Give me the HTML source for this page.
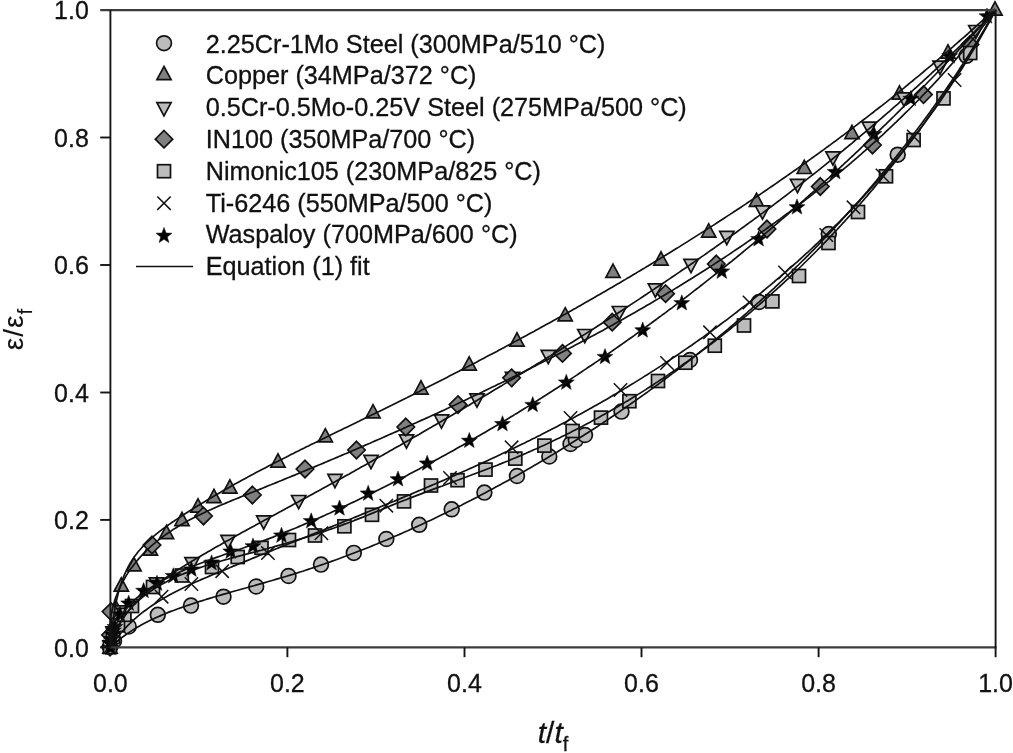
<!DOCTYPE html>
<html><head><meta charset="utf-8"><title>Creep curves</title>
<style>
html,body{margin:0;padding:0;background:#fff}
body{width:1013px;height:753px;overflow:hidden}
svg{display:block}
text{font-family:"Liberation Sans",Arial,sans-serif;fill:#111;stroke:#111;stroke-width:0.3px}
.tk{font-size:25px}
.lg{font-size:25.22px}
.ax{font-size:30px}
</style></head><body>
<svg width="1013" height="753" viewBox="0 0 1013 753">
<rect width="1013" height="753" fill="#fff"/>
<g fill="#bcbcbc" stroke="#111" stroke-width="1.7" stroke-linejoin="miter">
<circle cx="110.0" cy="647.0" r="7.4"/><circle cx="114.0" cy="641.0" r="7.4"/><circle cx="128.7" cy="626.5" r="7.4"/><circle cx="157.8" cy="614.8" r="7.4"/><circle cx="191.0" cy="605.6" r="7.4"/><circle cx="223.5" cy="596.7" r="7.4"/><circle cx="256.2" cy="586.5" r="7.4"/><circle cx="288.5" cy="576.0" r="7.4"/><circle cx="321.0" cy="564.6" r="7.4"/><circle cx="353.8" cy="552.9" r="7.4"/><circle cx="386.3" cy="539.0" r="7.4"/><circle cx="419.2" cy="524.8" r="7.4"/><circle cx="451.7" cy="509.3" r="7.4"/><circle cx="484.4" cy="492.6" r="7.4"/><circle cx="517.0" cy="476.0" r="7.4"/><circle cx="549.3" cy="456.5" r="7.4"/><circle cx="570.5" cy="444.0" r="7.4"/><circle cx="575.8" cy="440.0" r="7.4"/><circle cx="585.0" cy="435.0" r="7.4"/><circle cx="621.5" cy="411.6" r="7.4"/><circle cx="690.0" cy="360.0" r="7.4"/><circle cx="759.0" cy="302.0" r="7.4"/><circle cx="828.8" cy="234.0" r="7.4"/><circle cx="897.7" cy="154.7" r="7.4"/><circle cx="966.5" cy="55.8" r="7.4"/>
</g>
<g fill="#808080" stroke="#111" stroke-width="1.7" stroke-linejoin="miter">
<path d="M110.0 639.9L117.1 653.1H102.9Z"/><path d="M112.0 624.9L119.1 638.1H104.9Z"/><path d="M116.0 600.9L123.1 614.1H108.9Z"/><path d="M121.3 577.9L128.4 591.1H114.2Z"/><path d="M134.0 557.7L141.1 570.9H126.9Z"/><path d="M150.4 541.9L157.5 555.1H143.3Z"/><path d="M166.5 525.4L173.6 538.6H159.4Z"/><path d="M182.0 512.4L189.1 525.6H174.9Z"/><path d="M198.0 498.9L205.1 512.1H190.9Z"/><path d="M214.0 489.4L221.1 502.6H206.9Z"/><path d="M229.9 479.9L237.0 493.1H222.8Z"/><path d="M278.0 453.9L285.1 467.1H270.9Z"/><path d="M325.3 428.7L332.4 441.9H318.2Z"/><path d="M373.0 404.7L380.1 417.9H365.9Z"/><path d="M421.0 380.9L428.1 394.1H413.9Z"/><path d="M469.2 356.9L476.3 370.1H462.1Z"/><path d="M517.0 332.9L524.1 346.1H509.9Z"/><path d="M565.2 307.7L572.3 320.9H558.1Z"/><path d="M613.0 264.1L620.1 277.3H605.9Z"/><path d="M661.0 251.9L668.1 265.1H653.9Z"/><path d="M708.7 223.9L715.8 237.1H701.6Z"/><path d="M756.5 193.2L763.6 206.4H749.4Z"/><path d="M804.3 160.3L811.4 173.5H797.2Z"/><path d="M852.0 125.4L859.1 138.6H844.9Z"/><path d="M899.5 85.9L906.6 99.1H892.4Z"/><path d="M948.0 44.9L955.1 58.1H940.9Z"/><path d="M995.0 1.9L1002.1 15.1H987.9Z"/>
</g>
<g fill="#bcbcbc" stroke="#111" stroke-width="1.7" stroke-linejoin="miter">
<path d="M110.0 654.1L117.1 640.9H102.9Z"/><path d="M113.0 640.1L120.1 626.9H105.9Z"/><path d="M121.0 619.1L128.1 605.9H113.9Z"/><path d="M156.5 591.1L163.6 577.9H149.4Z"/><path d="M192.0 570.9L199.1 557.7H184.9Z"/><path d="M228.0 548.6L235.1 535.4H220.9Z"/><path d="M263.7 529.1L270.8 515.9H256.6Z"/><path d="M298.7 508.7L305.8 495.5H291.6Z"/><path d="M335.0 487.6L342.1 474.4H327.9Z"/><path d="M371.0 468.6L378.1 455.4H363.9Z"/><path d="M406.5 448.1L413.6 434.9H399.4Z"/><path d="M441.5 428.1L448.6 414.9H434.4Z"/><path d="M477.0 407.1L484.1 393.9H469.9Z"/><path d="M512.5 385.6L519.6 372.4H505.4Z"/><path d="M548.3 363.6L555.4 350.4H541.2Z"/><path d="M584.8 342.7L591.9 329.5H577.7Z"/><path d="M619.4 319.7L626.5 306.5H612.3Z"/><path d="M655.4 297.1L662.5 283.9H648.3Z"/><path d="M691.0 272.6L698.1 259.4H683.9Z"/><path d="M726.8 244.6L733.9 231.4H719.7Z"/><path d="M762.5 219.1L769.6 205.9H755.4Z"/><path d="M797.5 192.6L804.6 179.4H790.4Z"/><path d="M833.0 165.1L840.1 151.9H825.9Z"/><path d="M869.3 135.4L876.4 122.2H862.2Z"/><path d="M904.0 106.1L911.1 92.9H896.9Z"/><path d="M940.0 74.4L947.1 61.2H932.9Z"/><path d="M975.8 38.7L982.9 25.5H968.7Z"/>
</g>
<g fill="#808080" stroke="#111" stroke-width="1.7" stroke-linejoin="miter">
<path d="M110.0 638.3L118.7 647.0L110.0 655.7L101.3 647.0Z"/><path d="M110.5 626.3L119.2 635.0L110.5 643.7L101.8 635.0Z"/><path d="M111.0 602.9L119.7 611.6L111.0 620.3L102.3 611.6Z"/><path d="M152.0 536.3L160.7 545.0L152.0 553.7L143.3 545.0Z"/><path d="M203.5 507.3L212.2 516.0L203.5 524.7L194.8 516.0Z"/><path d="M252.4 486.3L261.1 495.0L252.4 503.7L243.7 495.0Z"/><path d="M305.0 460.3L313.7 469.0L305.0 477.7L296.3 469.0Z"/><path d="M356.5 441.3L365.2 450.0L356.5 458.7L347.8 450.0Z"/><path d="M405.8 418.3L414.5 427.0L405.8 435.7L397.1 427.0Z"/><path d="M458.0 395.9L466.7 404.6L458.0 413.3L449.3 404.6Z"/><path d="M511.6 369.1L520.3 377.8L511.6 386.5L502.9 377.8Z"/><path d="M562.5 344.7L571.2 353.4L562.5 362.1L553.8 353.4Z"/><path d="M612.2 313.5L620.9 322.2L612.2 330.9L603.5 322.2Z"/><path d="M665.6 285.0L674.3 293.7L665.6 302.4L656.9 293.7Z"/><path d="M716.3 255.3L725.0 264.0L716.3 272.7L707.6 264.0Z"/><path d="M767.0 220.3L775.7 229.0L767.0 237.7L758.3 229.0Z"/><path d="M820.3 177.8L829.0 186.5L820.3 195.2L811.6 186.5Z"/><path d="M872.5 136.3L881.2 145.0L872.5 153.7L863.8 145.0Z"/><path d="M923.5 85.9L932.2 94.6L923.5 103.3L914.8 94.6Z"/><path d="M970.0 35.9L978.7 44.6L970.0 53.3L961.3 44.6Z"/>
</g>
<g fill="#bcbcbc" stroke="#111" stroke-width="1.7" stroke-linejoin="miter">
<rect x="103.5" y="640.5" width="13.0" height="13.0"/><rect x="106.5" y="630.5" width="13.0" height="13.0"/><rect x="111.5" y="618.5" width="13.0" height="13.0"/><rect x="117.9" y="608.3" width="13.0" height="13.0"/><rect x="125.5" y="599.5" width="13.0" height="13.0"/><rect x="146.5" y="580.5" width="13.0" height="13.0"/><rect x="175.3" y="569.0" width="13.0" height="13.0"/><rect x="205.5" y="560.5" width="13.0" height="13.0"/><rect x="231.2" y="550.5" width="13.0" height="13.0"/><rect x="255.0" y="541.3" width="13.0" height="13.0"/><rect x="282.5" y="533.5" width="13.0" height="13.0"/><rect x="308.5" y="529.0" width="13.0" height="13.0"/><rect x="337.9" y="519.8" width="13.0" height="13.0"/><rect x="365.5" y="508.3" width="13.0" height="13.0"/><rect x="397.5" y="494.9" width="13.0" height="13.0"/><rect x="424.5" y="479.0" width="13.0" height="13.0"/><rect x="451.0" y="473.7" width="13.0" height="13.0"/><rect x="479.0" y="463.1" width="13.0" height="13.0"/><rect x="508.8" y="452.1" width="13.0" height="13.0"/><rect x="537.9" y="439.1" width="13.0" height="13.0"/><rect x="566.1" y="424.5" width="13.0" height="13.0"/><rect x="594.5" y="411.1" width="13.0" height="13.0"/><rect x="622.9" y="394.7" width="13.0" height="13.0"/><rect x="651.5" y="374.5" width="13.0" height="13.0"/><rect x="678.8" y="356.2" width="13.0" height="13.0"/><rect x="708.3" y="339.2" width="13.0" height="13.0"/><rect x="737.5" y="319.0" width="13.0" height="13.0"/><rect x="765.9" y="294.9" width="13.0" height="13.0"/><rect x="792.5" y="269.5" width="13.0" height="13.0"/><rect x="822.0" y="236.5" width="13.0" height="13.0"/><rect x="851.5" y="205.5" width="13.0" height="13.0"/><rect x="879.5" y="169.8" width="13.0" height="13.0"/><rect x="907.1" y="133.5" width="13.0" height="13.0"/><rect x="937.0" y="91.9" width="13.0" height="13.0"/><rect x="963.7" y="46.5" width="13.0" height="13.0"/>
</g>
<g fill="none" stroke="#111" stroke-width="1.5" stroke-linejoin="miter">
<path d="M103.3 640.3L116.7 653.7M103.3 653.7L116.7 640.3"/><path d="M154.9 590.0L168.3 603.4M154.9 603.4L168.3 590.0"/><path d="M184.7 577.3L198.1 590.7M184.7 590.7L198.1 577.3"/><path d="M215.5 564.5L228.9 577.9M215.5 577.9L228.9 564.5"/><path d="M261.2 546.4L274.6 559.8M261.2 559.8L274.6 546.4"/><path d="M314.7 526.6L328.1 540.0M314.7 540.0L328.1 526.6"/><path d="M379.6 499.0L393.0 512.4M379.6 512.4L393.0 499.0"/><path d="M443.3 471.3L456.7 484.7M443.3 484.7L456.7 471.3"/><path d="M504.9 440.6L518.3 454.0M504.9 454.0L518.3 440.6"/><path d="M563.8 411.3L577.2 424.7M563.8 424.7L577.2 411.3"/><path d="M613.8 383.3L627.2 396.7M613.8 396.7L627.2 383.3"/><path d="M660.3 356.3L673.7 369.7M660.3 369.7L673.7 356.3"/><path d="M703.3 325.6L716.7 339.0M703.3 339.0L716.7 325.6"/><path d="M742.8 295.8L756.2 309.2M742.8 309.2L756.2 295.8"/><path d="M778.3 265.8L791.7 279.2M778.3 279.2L791.7 265.8"/><path d="M819.6 228.3L833.0 241.7M819.6 241.7L833.0 228.3"/><path d="M846.8 200.6L860.2 214.0M846.8 214.0L860.2 200.6"/><path d="M875.8 168.8L889.2 182.2M875.8 182.2L889.2 168.8"/><path d="M907.0 129.8L920.4 143.2M907.0 143.2L920.4 129.8"/><path d="M947.9 73.3L961.3 86.7M947.9 86.7L961.3 73.3"/>
</g>
<g fill="#000" stroke="#111" stroke-width="0.5" stroke-linejoin="miter">
<path d="M110.4 639.6L112.5 645.2L118.4 645.4L113.7 649.1L115.3 654.8L110.4 651.5L105.5 654.8L107.1 649.1L102.4 645.4L108.3 645.2Z"/><path d="M110.6 635.2L112.7 640.8L118.6 641.0L113.9 644.7L115.5 650.4L110.6 647.1L105.7 650.4L107.3 644.7L102.6 641.0L108.5 640.8Z"/><path d="M111.2 630.7L113.3 636.3L119.2 636.5L114.5 640.2L116.1 645.9L111.2 642.6L106.3 645.9L107.9 640.2L103.2 636.5L109.1 636.3Z"/><path d="M112.2 626.2L114.3 631.8L120.2 632.0L115.5 635.7L117.1 641.4L112.2 638.1L107.3 641.4L108.9 635.7L104.2 632.0L110.1 631.8Z"/><path d="M113.4 622.2L115.5 627.8L121.4 628.0L116.7 631.7L118.3 637.4L113.4 634.1L108.5 637.4L110.1 631.7L105.4 628.0L111.3 627.8Z"/><path d="M114.9 618.7L117.0 624.3L122.9 624.5L118.2 628.2L119.8 633.9L114.9 630.6L110.0 633.9L111.6 628.2L106.9 624.5L112.8 624.3Z"/><path d="M120.0 606.2L122.1 611.8L128.0 612.0L123.3 615.7L124.9 621.4L120.0 618.1L115.1 621.4L116.7 615.7L112.0 612.0L117.9 611.8Z"/><path d="M128.7 595.2L130.8 600.8L136.7 601.0L132.0 604.7L133.6 610.4L128.7 607.1L123.8 610.4L125.4 604.7L120.7 601.0L126.6 600.8Z"/><path d="M143.6 582.5L145.7 588.1L151.6 588.3L146.9 592.0L148.5 597.7L143.6 594.4L138.7 597.7L140.3 592.0L135.6 588.3L141.5 588.1Z"/><path d="M157.0 575.2L159.1 580.8L165.0 581.0L160.3 584.7L161.9 590.4L157.0 587.1L152.1 590.4L153.7 584.7L149.0 581.0L154.9 580.8Z"/><path d="M173.3 567.7L175.4 573.3L181.3 573.5L176.6 577.2L178.2 582.9L173.3 579.6L168.4 582.9L170.0 577.2L165.3 573.5L171.2 573.3Z"/><path d="M191.4 561.2L193.5 566.8L199.4 567.0L194.7 570.7L196.3 576.4L191.4 573.1L186.5 576.4L188.1 570.7L183.4 567.0L189.3 566.8Z"/><path d="M211.6 554.9L213.7 560.5L219.6 560.7L214.9 564.4L216.5 570.1L211.6 566.8L206.7 570.1L208.3 564.4L203.6 560.7L209.5 560.5Z"/><path d="M230.7 543.2L232.8 548.8L238.7 549.0L234.0 552.7L235.6 558.4L230.7 555.1L225.8 558.4L227.4 552.7L222.7 549.0L228.6 548.8Z"/><path d="M253.0 537.9L255.1 543.5L261.0 543.7L256.3 547.4L257.9 553.1L253.0 549.8L248.1 553.1L249.7 547.4L245.0 543.7L250.9 543.5Z"/><path d="M281.5 527.2L283.6 532.8L289.5 533.0L284.8 536.7L286.4 542.4L281.5 539.1L276.6 542.4L278.2 536.7L273.5 533.0L279.4 532.8Z"/><path d="M311.2 512.8L313.3 518.4L319.2 518.6L314.5 522.3L316.1 528.0L311.2 524.7L306.3 528.0L307.9 522.3L303.2 518.6L309.1 518.4Z"/><path d="M339.5 500.0L341.6 505.6L347.5 505.8L342.8 509.5L344.4 515.2L339.5 511.9L334.6 515.2L336.2 509.5L331.5 505.8L337.4 505.6Z"/><path d="M368.2 485.2L370.3 490.8L376.2 491.0L371.5 494.7L373.1 500.4L368.2 497.1L363.3 500.4L364.9 494.7L360.2 491.0L366.1 490.8Z"/><path d="M398.0 470.9L400.1 476.5L406.0 476.7L401.3 480.4L402.9 486.1L398.0 482.8L393.1 486.1L394.7 480.4L390.0 476.7L395.9 476.5Z"/><path d="M427.2 455.2L429.3 460.8L435.2 461.0L430.5 464.7L432.1 470.4L427.2 467.1L422.3 470.4L423.9 464.7L419.2 461.0L425.1 460.8Z"/><path d="M469.3 432.4L471.4 438.0L477.3 438.2L472.6 441.9L474.2 447.6L469.3 444.3L464.4 447.6L466.0 441.9L461.3 438.2L467.2 438.0Z"/><path d="M502.5 415.7L504.6 421.3L510.5 421.5L505.8 425.2L507.4 430.9L502.5 427.6L497.6 430.9L499.2 425.2L494.5 421.5L500.4 421.3Z"/><path d="M532.7 396.6L534.8 402.2L540.7 402.4L536.0 406.1L537.6 411.8L532.7 408.5L527.8 411.8L529.4 406.1L524.7 402.4L530.6 402.2Z"/><path d="M566.3 374.2L568.4 379.8L574.3 380.0L569.6 383.7L571.2 389.4L566.3 386.1L561.4 389.4L563.0 383.7L558.3 380.0L564.2 379.8Z"/><path d="M605.0 348.6L607.1 354.2L613.0 354.4L608.3 358.1L609.9 363.8L605.0 360.5L600.1 363.8L601.7 358.1L597.0 354.4L602.9 354.2Z"/><path d="M642.7 322.0L644.8 327.6L650.7 327.8L646.0 331.5L647.6 337.2L642.7 333.9L637.8 337.2L639.4 331.5L634.7 327.8L640.6 327.6Z"/><path d="M681.8 294.8L683.9 300.4L689.8 300.6L685.1 304.3L686.7 310.0L681.8 306.7L676.9 310.0L678.5 304.3L673.8 300.6L679.7 300.4Z"/><path d="M721.8 263.2L723.9 268.8L729.8 269.0L725.1 272.7L726.7 278.4L721.8 275.1L716.9 278.4L718.5 272.7L713.8 269.0L719.7 268.8Z"/><path d="M758.6 230.8L760.7 236.4L766.6 236.6L761.9 240.3L763.5 246.0L758.6 242.7L753.7 246.0L755.3 240.3L750.6 236.6L756.5 236.4Z"/><path d="M797.0 198.9L799.1 204.5L805.0 204.7L800.3 208.4L801.9 214.1L797.0 210.8L792.1 214.1L793.7 208.4L789.0 204.7L794.9 204.5Z"/><path d="M835.2 163.7L837.3 169.3L843.2 169.5L838.5 173.2L840.1 178.9L835.2 175.6L830.3 178.9L831.9 173.2L827.2 169.5L833.1 169.3Z"/><path d="M874.0 125.8L876.1 131.4L882.0 131.6L877.3 135.3L878.9 141.0L874.0 137.7L869.1 141.0L870.7 135.3L866.0 131.6L871.9 131.4Z"/><path d="M910.8 90.5L912.9 96.1L918.8 96.3L914.1 100.0L915.7 105.7L910.8 102.4L905.9 105.7L907.5 100.0L902.8 96.3L908.7 96.1Z"/><path d="M949.7 48.0L951.8 53.6L957.7 53.8L953.0 57.5L954.6 63.2L949.7 59.9L944.8 63.2L946.4 57.5L941.7 53.8L947.6 53.6Z"/><path d="M987.0 8.0L989.1 13.6L995.0 13.8L990.3 17.5L991.9 23.2L987.0 19.9L982.1 23.2L983.7 17.5L979.0 13.8L984.9 13.6Z"/>
</g>
<g fill="none" stroke="#111" stroke-width="1.7" stroke-linejoin="round">
<path d="M110.4 647.4L112.4 645.5L114.4 643.6L116.5 641.9L118.6 640.1L120.8 638.4L122.9 636.8L125.1 635.2L127.3 633.6L129.6 632.1L131.9 630.6L134.1 629.2L136.5 627.8L138.8 626.4L141.2 625.1L143.5 623.8L145.9 622.5L148.4 621.3L150.8 620.1L153.3 618.9L155.7 617.8L158.2 616.7L160.7 615.6L163.3 614.5L165.8 613.5L168.3 612.4L170.9 611.4L173.5 610.5L176.1 609.5L178.7 608.5L181.3 607.6L183.9 606.7L186.5 605.8L189.2 604.9L191.8 604.0L194.5 603.1L197.1 602.3L199.8 601.4L202.5 600.6L205.1 599.8L207.8 598.9L210.5 598.1L213.2 597.3L215.9 596.5L218.6 595.7L221.3 594.9L224.0 594.1L226.7 593.4L229.4 592.6L232.1 591.8L234.8 591.0L237.6 590.3L240.3 589.5L243.0 588.7L245.7 588.0L248.5 587.2L251.2 586.4L253.9 585.7L256.7 584.9L259.4 584.1L262.1 583.4L264.8 582.6L267.6 581.8L270.3 581.0L273.0 580.2L275.7 579.4L278.4 578.6L281.2 577.8L283.9 577.0L286.6 576.2L289.3 575.4L292.0 574.6L294.7 573.7L297.4 572.9L300.1 572.0L302.8 571.2L305.5 570.3L308.2 569.4L310.8 568.5L313.5 567.6L316.2 566.7L318.9 565.8L321.5 564.9L324.2 564.0L326.8 563.0L329.5 562.1L332.2 561.1L334.8 560.2L337.5 559.2L340.1 558.3L342.7 557.3L345.4 556.3L348.0 555.3L350.6 554.3L353.3 553.3L355.9 552.3L358.5 551.3L361.1 550.3L363.8 549.2L366.4 548.2L369.0 547.2L371.6 546.1L374.2 545.0L376.8 544.0L379.4 542.9L382.0 541.8L384.6 540.7L387.2 539.7L389.7 538.6L392.3 537.5L394.9 536.3L397.5 535.2L400.1 534.1L402.6 533.0L405.2 531.8L407.8 530.7L410.3 529.5L412.9 528.4L415.4 527.2L418.0 526.1L420.5 524.9L423.1 523.7L425.6 522.5L428.2 521.3L430.7 520.2L433.3 518.9L435.8 517.7L438.3 516.5L440.8 515.3L443.4 514.1L445.9 512.9L448.4 511.6L450.9 510.4L453.4 509.1L456.0 507.9L458.5 506.6L461.0 505.4L463.5 504.1L466.0 502.8L468.5 501.5L471.0 500.3L473.5 499.0L476.0 497.7L478.5 496.4L480.9 495.1L483.4 493.8L485.9 492.4L488.4 491.1L490.9 489.8L493.3 488.5L495.8 487.1L498.3 485.8L500.7 484.5L503.2 483.1L505.7 481.8L508.1 480.4L510.6 479.0L513.0 477.7L515.5 476.3L517.9 474.9L520.4 473.5L522.8 472.1L525.3 470.7L527.7 469.3L530.1 467.9L532.6 466.5L535.0 465.1L537.4 463.7L539.8 462.3L542.3 460.8L544.7 459.4L547.1 458.0L549.5 456.5L551.9 455.1L554.3 453.6L556.7 452.2L559.1 450.7L561.5 449.3L563.9 447.8L566.3 446.3L568.7 444.8L571.1 443.3L573.5 441.8L575.9 440.3L578.2 438.8L580.6 437.3L583.0 435.8L585.3 434.3L587.7 432.8L590.1 431.3L592.4 429.7L594.8 428.2L597.1 426.7L599.5 425.1L601.8 423.6L604.2 422.0L606.5 420.5L608.9 418.9L611.2 417.3L613.5 415.8L615.8 414.2L618.2 412.6L620.5 411.0L622.8 409.4L625.1 407.8L627.4 406.2L629.7 404.6L632.0 403.0L634.3 401.4L636.6 399.8L638.9 398.1L641.2 396.5L643.5 394.9L645.8 393.2L648.1 391.6L650.4 389.9L652.6 388.3L654.9 386.6L657.2 385.0L659.4 383.3L661.7 381.6L663.9 380.0L666.2 378.3L668.4 376.6L670.7 374.9L672.9 373.2L675.2 371.5L677.4 369.8L679.6 368.1L681.9 366.4L684.1 364.6L686.3 362.9L688.5 361.2L690.7 359.5L692.9 357.7L695.1 356.0L697.3 354.2L699.5 352.5L701.7 350.7L703.9 349.0L706.1 347.2L708.3 345.4L710.5 343.7L712.6 341.9L714.8 340.1L717.0 338.3L719.1 336.5L721.3 334.7L723.5 332.9L725.6 331.1L727.8 329.3L729.9 327.5L732.0 325.7L734.2 323.8L736.3 322.0L738.4 320.2L740.5 318.3L742.7 316.5L744.8 314.6L746.9 312.8L749.0 310.9L751.1 309.1L753.2 307.2L755.3 305.3L757.4 303.4L759.5 301.6L761.6 299.7L763.6 297.8L765.7 295.9L767.8 294.0L769.8 292.1L771.9 290.2L774.0 288.3L776.0 286.4L778.1 284.4L780.1 282.5L782.1 280.6L784.2 278.6L786.2 276.7L788.2 274.8L790.3 272.8L792.3 270.9L794.3 268.9L796.3 266.9L798.3 265.0L800.3 263.0L802.3 261.0L804.3 259.1L806.3 257.1L808.3 255.1L810.2 253.1L812.2 251.1L814.2 249.1L816.1 247.1L818.1 245.1L820.0 243.1L822.0 241.0L823.9 239.0L825.9 237.0L827.8 235.0L829.8 232.9L831.7 230.9L833.6 228.8L835.5 226.8L837.4 224.7L839.3 222.7L841.2 220.6L843.1 218.5L845.0 216.5L846.9 214.4L848.8 212.3L850.7 210.2L852.6 208.1L854.4 206.0L856.3 203.9L858.2 201.8L860.0 199.7L861.9 197.6L863.7 195.5L865.6 193.4L867.4 191.3L869.2 189.1L871.0 187.0L872.9 184.9L874.7 182.7L876.5 180.6L878.3 178.4L880.1 176.3L881.9 174.1L883.7 171.9L885.5 169.8L887.2 167.6L889.0 165.4L890.8 163.3L892.6 161.1L894.3 158.9L896.1 156.7L897.8 154.5L899.6 152.3L901.3 150.1L903.0 147.9L904.8 145.7L906.5 143.4L908.2 141.2L909.9 139.0L911.6 136.8L913.3 134.5L915.0 132.3L916.7 130.0L918.4 127.8L920.1 125.5L921.8 123.3L923.4 121.0L925.1 118.7L926.8 116.5L928.4 114.2L930.1 111.9L931.7 109.6L933.3 107.4L935.0 105.1L936.6 102.8L938.2 100.5L939.8 98.2L941.4 95.9L943.1 93.6L944.7 91.2L946.2 88.9L947.8 86.6L949.4 84.3L951.0 81.9L952.6 79.6L954.1 77.3L955.7 74.9L957.2 72.6L958.8 70.2L960.3 67.8L961.9 65.5L963.4 63.1L964.9 60.8L966.4 58.4L968.0 56.0L969.5 53.6L971.0 51.2L972.5 48.8L973.9 46.4L975.4 44.0L976.9 41.6L978.4 39.2L979.9 36.8L981.3 34.4L982.8 32.0L984.2 29.6L985.7 27.1L987.1 24.7L988.5 22.3L990.0 19.8L991.4 17.4L992.8 14.9L994.2 12.5L995.6 10.0"/>
<path d="M110.4 647.4L110.6 644.7L110.8 642.1L111.0 639.3L111.3 636.6L111.5 633.8L111.8 631.0L112.1 628.2L112.4 625.3L112.8 622.5L113.2 619.6L113.6 616.7L114.0 613.9L114.5 611.0L115.0 608.1L115.5 605.2L116.1 602.4L116.7 599.5L117.4 596.7L118.1 593.8L118.8 591.0L119.6 588.3L120.5 585.5L121.4 582.8L122.4 580.1L123.4 577.4L124.4 574.8L125.6 572.2L126.8 569.7L128.0 567.2L129.3 564.8L130.7 562.4L132.2 560.0L133.7 557.8L135.3 555.6L136.9 553.4L138.6 551.3L140.4 549.2L142.2 547.2L144.1 545.2L146.0 543.2L148.0 541.3L150.0 539.5L152.0 537.7L154.1 535.9L156.2 534.1L158.4 532.4L160.6 530.7L162.8 529.0L165.0 527.4L167.3 525.7L169.6 524.1L171.9 522.5L174.2 521.0L176.5 519.4L178.8 517.9L181.2 516.3L183.5 514.8L185.9 513.3L188.3 511.8L190.6 510.3L193.0 508.8L195.4 507.3L197.8 505.8L200.1 504.4L202.5 502.9L204.9 501.5L207.3 500.0L209.7 498.6L212.1 497.2L214.5 495.7L217.0 494.3L219.4 492.9L221.8 491.5L224.2 490.1L226.7 488.8L229.1 487.4L231.5 486.0L234.0 484.6L236.4 483.3L238.9 481.9L241.3 480.6L243.8 479.2L246.2 477.9L248.7 476.6L251.1 475.2L253.6 473.9L256.1 472.6L258.6 471.3L261.0 470.0L263.5 468.7L266.0 467.4L268.5 466.1L271.0 464.8L273.4 463.5L275.9 462.2L278.4 461.0L280.9 459.7L283.4 458.4L285.9 457.2L288.4 455.9L290.9 454.6L293.4 453.4L295.9 452.1L298.4 450.9L300.9 449.6L303.4 448.4L306.0 447.1L308.5 445.9L311.0 444.6L313.5 443.4L316.0 442.2L318.5 440.9L321.1 439.7L323.6 438.5L326.1 437.2L328.6 436.0L331.1 434.8L333.7 433.5L336.2 432.3L338.7 431.1L341.2 429.9L343.8 428.6L346.3 427.4L348.8 426.2L351.3 425.0L353.9 423.7L356.4 422.5L358.9 421.3L361.4 420.0L363.9 418.8L366.5 417.6L369.0 416.3L371.5 415.1L374.0 413.9L376.6 412.6L379.1 411.4L381.6 410.2L384.1 408.9L386.6 407.7L389.2 406.4L391.7 405.2L394.2 403.9L396.7 402.7L399.2 401.4L401.7 400.2L404.3 398.9L406.8 397.7L409.3 396.4L411.8 395.2L414.3 393.9L416.8 392.6L419.3 391.4L421.8 390.1L424.4 388.8L426.9 387.6L429.4 386.3L431.9 385.0L434.4 383.8L436.9 382.5L439.4 381.2L441.9 379.9L444.4 378.7L446.9 377.4L449.4 376.1L451.9 374.8L454.4 373.5L456.9 372.2L459.4 370.9L461.9 369.6L464.4 368.4L466.9 367.1L469.4 365.8L471.9 364.5L474.4 363.2L476.9 361.9L479.3 360.5L481.8 359.2L484.3 357.9L486.8 356.6L489.3 355.3L491.8 354.0L494.3 352.7L496.8 351.4L499.2 350.0L501.7 348.7L504.2 347.4L506.7 346.1L509.2 344.7L511.6 343.4L514.1 342.1L516.6 340.8L519.1 339.4L521.5 338.1L524.0 336.7L526.5 335.4L528.9 334.1L531.4 332.7L533.9 331.4L536.3 330.0L538.8 328.7L541.3 327.3L543.7 326.0L546.2 324.6L548.7 323.2L551.1 321.9L553.6 320.5L556.0 319.2L558.5 317.8L561.0 316.4L563.4 315.0L565.9 313.7L568.3 312.3L570.8 310.9L573.2 309.5L575.7 308.2L578.1 306.8L580.5 305.4L583.0 304.0L585.4 302.6L587.9 301.2L590.3 299.8L592.7 298.4L595.2 297.0L597.6 295.6L600.1 294.2L602.5 292.8L604.9 291.4L607.3 290.0L609.8 288.6L612.2 287.2L614.6 285.7L617.1 284.3L619.5 282.9L621.9 281.5L624.3 280.1L626.7 278.6L629.2 277.2L631.6 275.8L634.0 274.3L636.4 272.9L638.8 271.4L641.2 270.0L643.6 268.6L646.0 267.1L648.4 265.7L650.8 264.2L653.2 262.8L655.6 261.3L658.0 259.8L660.4 258.4L662.8 256.9L665.2 255.4L667.6 254.0L670.0 252.5L672.4 251.0L674.8 249.5L677.2 248.1L679.6 246.6L681.9 245.1L684.3 243.6L686.7 242.1L689.1 240.6L691.4 239.1L693.8 237.6L696.2 236.1L698.6 234.6L700.9 233.1L703.3 231.6L705.7 230.1L708.0 228.6L710.4 227.1L712.8 225.6L715.1 224.1L717.5 222.5L719.8 221.0L722.2 219.5L724.5 218.0L726.9 216.4L729.2 214.9L731.6 213.4L733.9 211.8L736.3 210.3L738.6 208.7L740.9 207.2L743.3 205.6L745.6 204.1L747.9 202.5L750.3 200.9L752.6 199.4L754.9 197.8L757.2 196.3L759.6 194.7L761.9 193.1L764.2 191.5L766.5 190.0L768.8 188.4L771.2 186.8L773.5 185.2L775.8 183.6L778.1 182.0L780.4 180.4L782.7 178.8L785.0 177.2L787.3 175.6L789.6 174.0L791.9 172.4L794.2 170.8L796.5 169.2L798.7 167.6L801.0 165.9L803.3 164.3L805.6 162.7L807.9 161.0L810.2 159.4L812.4 157.8L814.7 156.1L817.0 154.5L819.2 152.9L821.5 151.2L823.8 149.6L826.0 147.9L828.3 146.2L830.6 144.6L832.8 142.9L835.1 141.3L837.3 139.6L839.6 137.9L841.8 136.2L844.1 134.6L846.3 132.9L848.5 131.2L850.8 129.5L853.0 127.8L855.2 126.1L857.5 124.4L859.7 122.7L861.9 121.0L864.2 119.3L866.4 117.6L868.6 115.9L870.8 114.2L873.0 112.5L875.2 110.7L877.4 109.0L879.7 107.3L881.9 105.6L884.1 103.8L886.3 102.1L888.5 100.3L890.7 98.6L892.8 96.8L895.0 95.1L897.2 93.3L899.4 91.6L901.6 89.8L903.8 88.1L905.9 86.3L908.1 84.5L910.3 82.7L912.5 81.0L914.6 79.2L916.8 77.4L919.0 75.6L921.1 73.8L923.3 72.0L925.4 70.2L927.6 68.4L929.7 66.6L931.9 64.8L934.0 63.0L936.2 61.2L938.3 59.4L940.4 57.6L942.6 55.7L944.7 53.9L946.8 52.1L949.0 50.3L951.1 48.4L953.2 46.6L955.3 44.7L957.4 42.9L959.5 41.0L961.6 39.2L963.8 37.3L965.9 35.5L968.0 33.6L970.1 31.7L972.2 29.8L974.2 28.0L976.3 26.1L978.4 24.2L980.5 22.3L982.6 20.4L984.7 18.5L986.7 16.6L988.8 14.7L990.9 12.8L992.9 10.9L995.0 9.0"/>
<path d="M110.4 647.4L111.1 644.7L111.9 642.0L112.8 639.4L113.7 636.8L114.7 634.3L115.8 631.8L116.9 629.4L118.1 627.0L119.3 624.7L120.7 622.4L122.0 620.1L123.4 617.9L124.9 615.8L126.4 613.7L128.0 611.6L129.6 609.5L131.3 607.5L133.0 605.5L134.8 603.6L136.6 601.7L138.5 599.8L140.3 598.0L142.3 596.2L144.2 594.4L146.2 592.6L148.3 590.9L150.3 589.2L152.4 587.5L154.5 585.9L156.7 584.2L158.9 582.6L161.1 581.0L163.3 579.4L165.5 577.9L167.8 576.4L170.1 574.8L172.4 573.3L174.7 571.8L177.0 570.3L179.4 568.9L181.7 567.4L184.1 566.0L186.5 564.5L188.8 563.1L191.2 561.6L193.6 560.2L196.0 558.8L198.4 557.4L200.8 556.0L203.2 554.6L205.6 553.2L208.0 551.8L210.4 550.4L212.8 549.0L215.2 547.6L217.6 546.2L220.1 544.9L222.5 543.5L224.9 542.1L227.3 540.7L229.8 539.4L232.2 538.0L234.6 536.7L237.1 535.3L239.5 534.0L241.9 532.6L244.4 531.3L246.8 529.9L249.3 528.6L251.7 527.2L254.2 525.9L256.6 524.6L259.0 523.2L261.5 521.9L263.9 520.6L266.4 519.2L268.8 517.9L271.3 516.6L273.7 515.2L276.2 513.9L278.6 512.6L281.1 511.3L283.5 509.9L286.0 508.6L288.4 507.3L290.9 505.9L293.3 504.6L295.8 503.3L298.2 502.0L300.6 500.6L303.1 499.3L305.5 498.0L308.0 496.6L310.4 495.3L312.8 494.0L315.3 492.6L317.7 491.3L320.1 490.0L322.6 488.6L325.0 487.3L327.4 486.0L329.9 484.6L332.3 483.3L334.7 481.9L337.1 480.6L339.6 479.2L342.0 477.9L344.4 476.6L346.8 475.2L349.3 473.9L351.7 472.5L354.1 471.2L356.5 469.8L358.9 468.5L361.3 467.1L363.8 465.8L366.2 464.4L368.6 463.1L371.0 461.7L373.4 460.3L375.8 459.0L378.2 457.6L380.6 456.3L383.0 454.9L385.4 453.5L387.8 452.2L390.2 450.8L392.6 449.5L395.0 448.1L397.4 446.7L399.8 445.4L402.2 444.0L404.6 442.6L407.0 441.2L409.4 439.9L411.8 438.5L414.2 437.1L416.6 435.7L419.0 434.4L421.4 433.0L423.8 431.6L426.1 430.2L428.5 428.8L430.9 427.5L433.3 426.1L435.7 424.7L438.1 423.3L440.5 421.9L442.8 420.5L445.2 419.1L447.6 417.7L450.0 416.3L452.4 415.0L454.7 413.6L457.1 412.2L459.5 410.8L461.9 409.4L464.2 408.0L466.6 406.6L469.0 405.2L471.3 403.7L473.7 402.3L476.1 400.9L478.5 399.5L480.8 398.1L483.2 396.7L485.6 395.3L487.9 393.9L490.3 392.5L492.6 391.0L495.0 389.6L497.4 388.2L499.7 386.8L502.1 385.4L504.5 383.9L506.8 382.5L509.2 381.1L511.5 379.7L513.9 378.2L516.2 376.8L518.6 375.4L521.0 373.9L523.3 372.5L525.7 371.0L528.0 369.6L530.4 368.2L532.7 366.7L535.1 365.3L537.4 363.8L539.8 362.4L542.1 360.9L544.5 359.5L546.8 358.0L549.2 356.6L551.5 355.1L553.8 353.7L556.2 352.2L558.5 350.8L560.9 349.3L563.2 347.8L565.6 346.4L567.9 344.9L570.2 343.4L572.6 342.0L574.9 340.5L577.3 339.0L579.6 337.5L581.9 336.1L584.3 334.6L586.6 333.1L588.9 331.6L591.3 330.1L593.6 328.7L595.9 327.2L598.2 325.7L600.6 324.2L602.9 322.7L605.2 321.2L607.6 319.7L609.9 318.2L612.2 316.7L614.5 315.2L616.8 313.7L619.2 312.2L621.5 310.7L623.8 309.2L626.1 307.7L628.4 306.2L630.7 304.6L633.1 303.1L635.4 301.6L637.7 300.1L640.0 298.6L642.3 297.0L644.6 295.5L646.9 294.0L649.2 292.4L651.5 290.9L653.8 289.4L656.1 287.8L658.4 286.3L660.7 284.8L663.0 283.2L665.3 281.7L667.6 280.1L669.9 278.6L672.2 277.0L674.5 275.5L676.8 273.9L679.1 272.4L681.3 270.8L683.6 269.2L685.9 267.7L688.2 266.1L690.5 264.5L692.7 263.0L695.0 261.4L697.3 259.8L699.6 258.2L701.8 256.6L704.1 255.1L706.4 253.5L708.6 251.9L710.9 250.3L713.2 248.7L715.4 247.1L717.7 245.5L720.0 243.9L722.2 242.3L724.5 240.7L726.7 239.1L729.0 237.5L731.2 235.9L733.5 234.3L735.7 232.7L738.0 231.0L740.2 229.4L742.4 227.8L744.7 226.2L746.9 224.5L749.1 222.9L751.4 221.3L753.6 219.6L755.8 218.0L758.1 216.4L760.3 214.7L762.5 213.1L764.7 211.4L767.0 209.8L769.2 208.1L771.4 206.5L773.6 204.8L775.8 203.1L778.0 201.5L780.2 199.8L782.4 198.1L784.6 196.5L786.8 194.8L789.0 193.1L791.2 191.4L793.4 189.7L795.6 188.1L797.8 186.4L800.0 184.7L802.2 183.0L804.4 181.3L806.5 179.6L808.7 177.9L810.9 176.2L813.1 174.5L815.2 172.8L817.4 171.1L819.6 169.3L821.7 167.6L823.9 165.9L826.1 164.2L828.2 162.4L830.4 160.7L832.5 159.0L834.7 157.2L836.8 155.5L839.0 153.8L841.1 152.0L843.3 150.3L845.4 148.5L847.5 146.8L849.7 145.0L851.8 143.3L853.9 141.5L856.0 139.7L858.2 138.0L860.3 136.2L862.4 134.4L864.5 132.6L866.6 130.9L868.7 129.1L870.8 127.3L872.9 125.5L875.0 123.7L877.1 121.9L879.2 120.1L881.3 118.3L883.4 116.5L885.5 114.7L887.6 112.9L889.7 111.1L891.8 109.2L893.8 107.4L895.9 105.6L898.0 103.8L900.0 101.9L902.1 100.1L904.2 98.3L906.2 96.4L908.3 94.6L910.3 92.7L912.4 90.9L914.4 89.0L916.5 87.2L918.5 85.3L920.6 83.4L922.6 81.6L924.6 79.7L926.6 77.8L928.7 76.0L930.7 74.1L932.7 72.2L934.7 70.3L936.7 68.4L938.8 66.5L940.8 64.6L942.8 62.7L944.8 60.8L946.8 58.9L948.8 57.0L950.7 55.1L952.7 53.2L954.7 51.2L956.7 49.3L958.7 47.4L960.7 45.5L962.6 43.5L964.6 41.6L966.6 39.6L968.5 37.7L970.5 35.7L972.4 33.8L974.4 31.8L976.3 29.9L978.3 27.9L980.2 25.9L982.1 24.0L984.1 22.0L986.0 20.0L987.9 18.0L989.9 16.0L991.8 14.1L993.7 12.1L995.6 10.1"/>
<path d="M110.4 647.4L110.1 644.3L109.8 641.1L109.7 638.0L109.6 635.0L109.6 631.9L109.7 628.9L109.8 625.9L110.1 623.0L110.4 620.1L110.8 617.2L111.3 614.3L111.8 611.5L112.5 608.7L113.1 606.0L113.9 603.2L114.7 600.5L115.6 597.9L116.6 595.3L117.6 592.7L118.7 590.1L119.8 587.6L121.0 585.1L122.3 582.6L123.6 580.2L125.0 577.8L126.4 575.4L127.8 573.1L129.4 570.8L130.9 568.6L132.6 566.4L134.2 564.2L136.0 562.0L137.7 559.9L139.5 557.9L141.4 555.8L143.2 553.8L145.2 551.9L147.1 549.9L149.1 548.1L151.1 546.2L153.2 544.4L155.3 542.6L157.4 540.9L159.6 539.2L161.7 537.5L163.9 535.9L166.2 534.3L168.4 532.7L170.7 531.2L173.0 529.6L175.4 528.2L177.7 526.7L180.1 525.3L182.5 523.9L184.9 522.5L187.4 521.1L189.8 519.8L192.3 518.5L194.8 517.2L197.3 516.0L199.9 514.7L202.4 513.5L205.0 512.3L207.5 511.1L210.1 509.9L212.7 508.7L215.3 507.6L217.9 506.4L220.5 505.3L223.2 504.2L225.8 503.1L228.4 502.0L231.1 500.9L233.7 499.8L236.4 498.7L239.1 497.6L241.7 496.5L244.4 495.5L247.0 494.4L249.7 493.3L252.4 492.3L255.0 491.2L257.7 490.1L260.3 489.1L263.0 488.0L265.6 486.9L268.3 485.8L270.9 484.8L273.5 483.7L276.2 482.6L278.8 481.5L281.5 480.5L284.1 479.4L286.7 478.3L289.4 477.2L292.0 476.1L294.6 475.1L297.2 474.0L299.9 472.9L302.5 471.8L305.1 470.7L307.7 469.6L310.3 468.5L312.9 467.5L315.6 466.4L318.2 465.3L320.8 464.2L323.4 463.1L326.0 462.0L328.6 460.9L331.2 459.8L333.8 458.7L336.4 457.6L339.0 456.5L341.6 455.4L344.2 454.3L346.8 453.2L349.4 452.1L351.9 451.0L354.5 449.9L357.1 448.7L359.7 447.6L362.3 446.5L364.9 445.4L367.4 444.3L370.0 443.2L372.6 442.0L375.2 440.9L377.8 439.8L380.3 438.7L382.9 437.5L385.5 436.4L388.0 435.3L390.6 434.1L393.2 433.0L395.7 431.9L398.3 430.7L400.9 429.6L403.4 428.4L406.0 427.3L408.5 426.1L411.1 425.0L413.7 423.8L416.2 422.7L418.8 421.5L421.3 420.4L423.9 419.2L426.4 418.1L429.0 416.9L431.5 415.7L434.1 414.6L436.6 413.4L439.2 412.2L441.7 411.1L444.3 409.9L446.8 408.7L449.3 407.5L451.9 406.3L454.4 405.2L457.0 404.0L459.5 402.8L462.0 401.6L464.6 400.4L467.1 399.2L469.6 398.0L472.2 396.8L474.7 395.6L477.2 394.4L479.8 393.2L482.3 392.0L484.8 390.7L487.4 389.5L489.9 388.3L492.4 387.1L494.9 385.9L497.5 384.6L500.0 383.4L502.5 382.2L505.0 380.9L507.6 379.7L510.1 378.4L512.6 377.2L515.1 376.0L517.6 374.7L520.2 373.4L522.7 372.2L525.2 370.9L527.7 369.7L530.2 368.4L532.8 367.1L535.3 365.9L537.8 364.6L540.3 363.3L542.8 362.0L545.3 360.8L547.8 359.5L550.3 358.2L552.9 356.9L555.4 355.6L557.9 354.3L560.4 353.0L562.9 351.7L565.4 350.4L567.9 349.1L570.4 347.8L572.9 346.4L575.4 345.1L577.9 343.8L580.4 342.5L582.9 341.1L585.4 339.8L587.8 338.5L590.3 337.1L592.8 335.8L595.3 334.4L597.8 333.1L600.3 331.7L602.8 330.4L605.2 329.0L607.7 327.6L610.2 326.3L612.7 324.9L615.1 323.5L617.6 322.1L620.1 320.8L622.5 319.4L625.0 318.0L627.5 316.6L629.9 315.2L632.4 313.8L634.9 312.4L637.3 311.0L639.8 309.6L642.2 308.2L644.7 306.7L647.1 305.3L649.6 303.9L652.0 302.5L654.4 301.0L656.9 299.6L659.3 298.1L661.7 296.7L664.2 295.2L666.6 293.8L669.0 292.3L671.5 290.9L673.9 289.4L676.3 287.9L678.7 286.5L681.1 285.0L683.5 283.5L685.9 282.0L688.3 280.5L690.8 279.0L693.2 277.5L695.5 276.0L697.9 274.5L700.3 273.0L702.7 271.5L705.1 270.0L707.5 268.5L709.9 266.9L712.3 265.4L714.6 263.9L717.0 262.3L719.4 260.8L721.7 259.2L724.1 257.7L726.5 256.1L728.8 254.6L731.2 253.0L733.5 251.4L735.9 249.8L738.2 248.3L740.5 246.7L742.9 245.1L745.2 243.5L747.5 241.9L749.9 240.3L752.2 238.7L754.5 237.1L756.8 235.5L759.1 233.9L761.4 232.2L763.8 230.6L766.1 229.0L768.4 227.3L770.6 225.7L772.9 224.0L775.2 222.4L777.5 220.7L779.8 219.1L782.1 217.4L784.3 215.7L786.6 214.0L788.9 212.4L791.1 210.7L793.4 209.0L795.6 207.3L797.9 205.6L800.1 203.9L802.4 202.2L804.6 200.5L806.8 198.7L809.1 197.0L811.3 195.3L813.5 193.5L815.7 191.8L817.9 190.1L820.1 188.3L822.3 186.6L824.5 184.8L826.7 183.0L828.9 181.3L831.1 179.5L833.3 177.7L835.5 175.9L837.6 174.1L839.8 172.3L841.9 170.5L844.1 168.7L846.3 166.9L848.4 165.1L850.5 163.3L852.7 161.4L854.8 159.6L856.9 157.8L859.1 155.9L861.2 154.1L863.3 152.2L865.4 150.3L867.5 148.5L869.6 146.6L871.7 144.7L873.8 142.8L875.9 141.0L878.0 139.1L880.0 137.2L882.1 135.3L884.2 133.3L886.2 131.4L888.3 129.5L890.3 127.6L892.4 125.6L894.4 123.7L896.4 121.8L898.4 119.8L900.5 117.9L902.5 115.9L904.5 113.9L906.5 111.9L908.5 110.0L910.5 108.0L912.5 106.0L914.5 104.0L916.4 102.0L918.4 100.0L920.4 98.0L922.3 95.9L924.3 93.9L926.2 91.9L928.2 89.9L930.1 87.8L932.0 85.8L934.0 83.7L935.9 81.6L937.8 79.6L939.7 77.5L941.6 75.4L943.5 73.3L945.4 71.2L947.2 69.1L949.1 67.0L951.0 64.9L952.9 62.8L954.7 60.7L956.6 58.5L958.4 56.4L960.2 54.3L962.1 52.1L963.9 50.0L965.7 47.8L967.5 45.6L969.3 43.5L971.1 41.3L972.9 39.1L974.7 36.9L976.5 34.7L978.3 32.5L980.0 30.3L981.8 28.0L983.5 25.8L985.3 23.6L987.0 21.4L988.7 19.1L990.5 16.9L992.2 14.6L993.9 12.3L995.6 10.1"/>
<path d="M110.4 647.4L111.1 644.4L111.9 641.5L112.8 638.6L113.8 635.9L114.9 633.2L116.0 630.5L117.2 628.0L118.5 625.5L119.9 623.0L121.3 620.6L122.8 618.3L124.4 616.1L126.0 613.9L127.7 611.8L129.4 609.7L131.3 607.7L133.1 605.7L135.0 603.8L137.0 601.9L139.0 600.1L141.1 598.4L143.2 596.6L145.3 595.0L147.5 593.4L149.8 591.8L152.0 590.2L154.3 588.8L156.6 587.3L159.0 585.9L161.4 584.5L163.8 583.2L166.2 581.9L168.7 580.6L171.2 579.4L173.7 578.1L176.2 577.0L178.8 575.8L181.4 574.7L184.0 573.6L186.6 572.6L189.3 571.5L191.9 570.5L194.6 569.5L197.3 568.6L200.0 567.6L202.7 566.7L205.5 565.8L208.2 564.9L211.0 564.1L213.7 563.2L216.5 562.4L219.3 561.6L222.1 560.7L224.9 559.9L227.7 559.2L230.5 558.4L233.3 557.6L236.1 556.9L238.9 556.1L241.7 555.4L244.6 554.6L247.4 553.9L250.2 553.1L253.0 552.4L255.8 551.7L258.6 550.9L261.4 550.2L264.2 549.4L266.9 548.7L269.7 547.9L272.4 547.2L275.2 546.4L277.9 545.6L280.7 544.9L283.4 544.1L286.1 543.3L288.8 542.5L291.5 541.7L294.3 540.9L296.9 540.1L299.6 539.3L302.3 538.5L305.0 537.7L307.7 536.8L310.3 536.0L313.0 535.1L315.7 534.3L318.3 533.4L321.0 532.5L323.6 531.6L326.3 530.7L328.9 529.8L331.5 528.9L334.2 528.0L336.8 527.0L339.4 526.1L342.0 525.1L344.6 524.1L347.2 523.2L349.9 522.2L352.5 521.2L355.1 520.1L357.7 519.1L360.3 518.1L362.9 517.1L365.5 516.0L368.1 515.0L370.7 513.9L373.3 512.9L375.9 511.8L378.5 510.7L381.1 509.7L383.7 508.6L386.3 507.6L388.9 506.5L391.5 505.4L394.1 504.4L396.7 503.3L399.3 502.3L401.9 501.2L404.6 500.2L407.2 499.2L409.8 498.1L412.5 497.1L415.1 496.1L417.7 495.1L420.4 494.1L423.0 493.1L425.7 492.1L428.3 491.1L430.9 490.1L433.6 489.1L436.3 488.1L438.9 487.1L441.6 486.2L444.2 485.2L446.9 484.2L449.5 483.2L452.2 482.2L454.8 481.2L457.5 480.3L460.2 479.3L462.8 478.3L465.5 477.3L468.1 476.3L470.8 475.3L473.4 474.3L476.1 473.3L478.8 472.3L481.4 471.3L484.1 470.3L486.7 469.3L489.3 468.3L492.0 467.2L494.6 466.2L497.3 465.2L499.9 464.1L502.5 463.1L505.2 462.0L507.8 461.0L510.4 459.9L513.0 458.8L515.6 457.7L518.2 456.6L520.9 455.5L523.5 454.4L526.1 453.3L528.6 452.1L531.2 451.0L533.8 449.8L536.4 448.7L539.0 447.5L541.6 446.3L544.1 445.2L546.7 444.0L549.2 442.8L551.8 441.6L554.4 440.3L556.9 439.1L559.4 437.9L562.0 436.6L564.5 435.4L567.1 434.1L569.6 432.9L572.1 431.6L574.6 430.3L577.1 429.0L579.6 427.7L582.1 426.4L584.6 425.1L587.1 423.7L589.6 422.4L592.1 421.1L594.6 419.7L597.1 418.4L599.6 417.0L602.0 415.6L604.5 414.2L607.0 412.8L609.4 411.4L611.9 410.0L614.3 408.6L616.8 407.2L619.2 405.8L621.6 404.3L624.1 402.9L626.5 401.4L628.9 400.0L631.3 398.5L633.7 397.0L636.1 395.6L638.5 394.1L640.9 392.6L643.3 391.1L645.7 389.6L648.1 388.0L650.5 386.5L652.9 385.0L655.2 383.4L657.6 381.9L660.0 380.3L662.3 378.8L664.7 377.2L667.0 375.6L669.4 374.0L671.7 372.4L674.0 370.8L676.4 369.2L678.7 367.6L681.0 366.0L683.3 364.3L685.6 362.7L687.9 361.1L690.2 359.4L692.5 357.8L694.8 356.1L697.1 354.4L699.4 352.7L701.6 351.0L703.9 349.4L706.2 347.7L708.4 346.0L710.7 344.2L713.0 342.5L715.2 340.8L717.4 339.1L719.7 337.3L721.9 335.6L724.1 333.8L726.4 332.1L728.6 330.3L730.8 328.5L733.0 326.7L735.2 325.0L737.4 323.2L739.6 321.4L741.8 319.6L743.9 317.7L746.1 315.9L748.3 314.1L750.5 312.3L752.6 310.4L754.8 308.6L756.9 306.7L759.1 304.9L761.2 303.0L763.3 301.2L765.5 299.3L767.6 297.4L769.7 295.5L771.8 293.6L773.9 291.7L776.0 289.8L778.1 287.9L780.2 286.0L782.3 284.1L784.4 282.1L786.5 280.2L788.5 278.3L790.6 276.3L792.7 274.4L794.7 272.4L796.8 270.4L798.8 268.5L800.9 266.5L802.9 264.5L804.9 262.5L807.0 260.5L809.0 258.5L811.0 256.5L813.0 254.5L815.0 252.5L817.0 250.5L819.0 248.4L821.0 246.4L822.9 244.4L824.9 242.3L826.9 240.3L828.9 238.2L830.8 236.2L832.8 234.1L834.7 232.0L836.7 230.0L838.6 227.9L840.5 225.8L842.4 223.7L844.4 221.6L846.3 219.5L848.2 217.4L850.1 215.3L852.0 213.2L853.9 211.1L855.8 208.9L857.6 206.8L859.5 204.7L861.4 202.5L863.3 200.4L865.1 198.2L867.0 196.1L868.8 193.9L870.6 191.7L872.5 189.6L874.3 187.4L876.1 185.2L877.9 183.0L879.8 180.9L881.6 178.7L883.4 176.5L885.2 174.3L886.9 172.0L888.7 169.8L890.5 167.6L892.3 165.4L894.0 163.2L895.8 160.9L897.5 158.7L899.3 156.5L901.0 154.2L902.8 152.0L904.5 149.7L906.2 147.5L907.9 145.2L909.7 142.9L911.4 140.7L913.1 138.4L914.7 136.1L916.4 133.8L918.1 131.6L919.8 129.3L921.5 127.0L923.1 124.7L924.8 122.4L926.4 120.1L928.1 117.7L929.7 115.4L931.3 113.1L933.0 110.8L934.6 108.5L936.2 106.1L937.8 103.8L939.4 101.5L941.0 99.1L942.6 96.8L944.2 94.4L945.8 92.1L947.3 89.7L948.9 87.4L950.5 85.0L952.0 82.6L953.6 80.3L955.1 77.9L956.6 75.5L958.2 73.1L959.7 70.7L961.2 68.4L962.7 66.0L964.2 63.6L965.7 61.2L967.2 58.8L968.7 56.4L970.1 53.9L971.6 51.5L973.1 49.1L974.5 46.7L976.0 44.3L977.4 41.9L978.9 39.4L980.3 37.0L981.7 34.6L983.1 32.1L984.5 29.7L985.9 27.2L987.3 24.8L988.7 22.3L990.1 19.9L991.5 17.4L992.9 15.0L994.2 12.5L995.6 10.1"/>
<path d="M110.3 647.3L111.9 645.0L113.5 642.6L115.2 640.3L116.8 638.1L118.6 635.9L120.3 633.7L122.1 631.6L124.0 629.6L125.8 627.6L127.7 625.6L129.7 623.7L131.6 621.8L133.6 619.9L135.7 618.1L137.7 616.4L139.8 614.6L141.9 612.9L144.1 611.3L146.3 609.7L148.4 608.1L150.7 606.5L152.9 605.0L155.2 603.5L157.5 602.0L159.8 600.6L162.1 599.2L164.5 597.8L166.9 596.4L169.3 595.1L171.7 593.8L174.1 592.5L176.6 591.2L179.0 589.9L181.5 588.7L184.0 587.5L186.5 586.3L189.0 585.1L191.5 583.9L194.1 582.8L196.6 581.6L199.2 580.5L201.7 579.4L204.3 578.3L206.9 577.2L209.4 576.1L212.0 575.0L214.6 573.9L217.2 572.8L219.8 571.8L222.4 570.7L225.0 569.6L227.6 568.6L230.2 567.5L232.8 566.4L235.4 565.4L238.0 564.3L240.6 563.2L243.2 562.2L245.8 561.1L248.4 560.1L251.0 559.0L253.6 557.9L256.2 556.9L258.8 555.8L261.4 554.8L264.0 553.7L266.6 552.7L269.2 551.6L271.8 550.6L274.4 549.5L277.0 548.5L279.7 547.4L282.3 546.4L284.9 545.4L287.5 544.3L290.1 543.3L292.7 542.2L295.3 541.2L297.9 540.1L300.5 539.1L303.1 538.0L305.7 537.0L308.3 536.0L310.9 534.9L313.6 533.9L316.2 532.8L318.8 531.8L321.4 530.7L324.0 529.7L326.6 528.6L329.2 527.6L331.8 526.6L334.4 525.5L337.0 524.5L339.6 523.4L342.2 522.4L344.8 521.3L347.4 520.3L350.0 519.2L352.6 518.2L355.2 517.1L357.8 516.1L360.4 515.0L363.0 513.9L365.6 512.9L368.2 511.8L370.8 510.8L373.4 509.7L376.0 508.6L378.6 507.6L381.2 506.5L383.8 505.4L386.4 504.4L389.0 503.3L391.6 502.2L394.2 501.2L396.8 500.1L399.4 499.0L402.0 497.9L404.6 496.8L407.2 495.8L409.7 494.7L412.3 493.6L414.9 492.5L417.5 491.4L420.1 490.3L422.7 489.2L425.2 488.1L427.8 487.0L430.4 485.9L433.0 484.8L435.6 483.7L438.1 482.6L440.7 481.5L443.3 480.4L445.8 479.2L448.4 478.1L451.0 477.0L453.6 475.9L456.1 474.7L458.7 473.6L461.2 472.5L463.8 471.3L466.4 470.2L468.9 469.0L471.5 467.9L474.0 466.7L476.6 465.6L479.1 464.4L481.7 463.2L484.2 462.1L486.8 460.9L489.3 459.7L491.9 458.5L494.4 457.4L496.9 456.2L499.5 455.0L502.0 453.8L504.5 452.6L507.1 451.4L509.6 450.2L512.1 449.0L514.6 447.8L517.2 446.5L519.7 445.3L522.2 444.1L524.7 442.9L527.2 441.6L529.7 440.4L532.2 439.1L534.8 437.9L537.3 436.6L539.8 435.4L542.3 434.1L544.8 432.8L547.3 431.6L549.7 430.3L552.2 429.0L554.7 427.7L557.2 426.4L559.7 425.1L562.2 423.8L564.7 422.5L567.1 421.2L569.6 419.8L572.1 418.5L574.5 417.2L577.0 415.8L579.5 414.5L581.9 413.2L584.4 411.8L586.8 410.4L589.3 409.1L591.7 407.7L594.2 406.3L596.6 404.9L599.1 403.6L601.5 402.2L603.9 400.8L606.4 399.4L608.8 398.0L611.2 396.5L613.6 395.1L616.1 393.7L618.5 392.3L620.9 390.8L623.3 389.4L625.7 387.9L628.1 386.5L630.5 385.0L632.9 383.6L635.3 382.1L637.7 380.6L640.1 379.1L642.5 377.6L644.8 376.1L647.2 374.7L649.6 373.1L651.9 371.6L654.3 370.1L656.7 368.6L659.0 367.1L661.4 365.6L663.7 364.0L666.1 362.5L668.4 360.9L670.8 359.4L673.1 357.8L675.4 356.3L677.8 354.7L680.1 353.1L682.4 351.5L684.7 349.9L687.0 348.4L689.4 346.8L691.7 345.2L694.0 343.5L696.3 341.9L698.6 340.3L700.8 338.7L703.1 337.1L705.4 335.4L707.7 333.8L710.0 332.1L712.2 330.5L714.5 328.8L716.8 327.2L719.0 325.5L721.3 323.8L723.5 322.1L725.8 320.5L728.0 318.8L730.2 317.1L732.5 315.4L734.7 313.7L736.9 312.0L739.1 310.2L741.3 308.5L743.6 306.8L745.8 305.1L748.0 303.3L750.2 301.6L752.3 299.8L754.5 298.1L756.7 296.3L758.9 294.5L761.1 292.8L763.2 291.0L765.4 289.2L767.5 287.4L769.7 285.6L771.8 283.8L774.0 282.0L776.1 280.2L778.2 278.4L780.4 276.6L782.5 274.7L784.6 272.9L786.7 271.1L788.8 269.2L790.9 267.4L793.0 265.5L795.1 263.6L797.2 261.8L799.3 259.9L801.4 258.0L803.4 256.1L805.5 254.2L807.6 252.4L809.6 250.5L811.7 248.5L813.7 246.6L815.7 244.7L817.8 242.8L819.8 240.9L821.8 238.9L823.8 237.0L825.8 235.1L827.9 233.1L829.9 231.1L831.8 229.2L833.8 227.2L835.8 225.2L837.8 223.3L839.8 221.3L841.7 219.3L843.7 217.3L845.6 215.3L847.6 213.3L849.5 211.3L851.5 209.3L853.4 207.2L855.3 205.2L857.2 203.2L859.2 201.1L861.1 199.1L863.0 197.1L864.9 195.0L866.7 192.9L868.6 190.9L870.5 188.8L872.4 186.7L874.2 184.6L876.1 182.6L877.9 180.5L879.8 178.4L881.6 176.3L883.4 174.1L885.3 172.0L887.1 169.9L888.9 167.8L890.7 165.6L892.5 163.5L894.3 161.4L896.1 159.2L897.9 157.1L899.6 154.9L901.4 152.7L903.2 150.6L904.9 148.4L906.7 146.2L908.4 144.0L910.1 141.8L911.9 139.6L913.6 137.4L915.3 135.2L917.0 133.0L918.7 130.8L920.4 128.5L922.1 126.3L923.8 124.1L925.4 121.8L927.1 119.6L928.7 117.3L930.4 115.0L932.0 112.8L933.7 110.5L935.3 108.2L936.9 105.9L938.5 103.7L940.1 101.4L941.7 99.1L943.3 96.8L944.9 94.4L946.5 92.1L948.1 89.8L949.6 87.5L951.2 85.1L952.7 82.8L954.3 80.5L955.8 78.1L957.3 75.8L958.9 73.4L960.4 71.0L961.9 68.7L963.4 66.3L964.9 63.9L966.3 61.5L967.8 59.1L969.3 56.7L970.7 54.3L972.2 51.9L973.6 49.5L975.1 47.1L976.5 44.6L977.9 42.2L979.3 39.8L980.7 37.3L982.1 34.9L983.5 32.4L984.9 29.9L986.2 27.5L987.6 25.0L989.0 22.5L990.3 20.0L991.6 17.5L993.0 15.1L994.3 12.6L995.6 10.0"/>
<path d="M110.4 647.4L110.7 644.4L111.1 641.4L111.7 638.5L112.3 635.7L113.1 633.0L114.0 630.3L114.9 627.7L116.0 625.2L117.1 622.7L118.3 620.4L119.7 618.0L121.0 615.8L122.5 613.6L124.1 611.5L125.7 609.4L127.4 607.4L129.1 605.4L130.9 603.5L132.8 601.6L134.7 599.8L136.7 598.0L138.7 596.3L140.8 594.7L142.9 593.0L145.1 591.4L147.3 589.9L149.5 588.4L151.8 586.9L154.1 585.5L156.4 584.1L158.8 582.7L161.1 581.3L163.5 580.0L165.9 578.7L168.4 577.5L170.8 576.2L173.3 575.0L175.8 573.8L178.3 572.7L180.8 571.5L183.3 570.4L185.8 569.3L188.4 568.2L191.0 567.1L193.5 566.1L196.1 565.0L198.7 564.0L201.4 563.0L204.0 562.0L206.6 561.0L209.2 560.0L211.9 559.1L214.5 558.1L217.2 557.1L219.9 556.2L222.5 555.3L225.2 554.3L227.9 553.4L230.5 552.5L233.2 551.5L235.9 550.6L238.5 549.7L241.2 548.7L243.9 547.8L246.6 546.8L249.2 545.9L251.9 544.9L254.5 544.0L257.2 543.0L259.8 542.0L262.5 541.1L265.1 540.1L267.7 539.1L270.4 538.1L273.0 537.1L275.6 536.0L278.2 535.0L280.8 534.0L283.4 532.9L286.0 531.9L288.6 530.9L291.2 529.8L293.8 528.7L296.4 527.7L298.9 526.6L301.5 525.5L304.1 524.4L306.6 523.3L309.2 522.2L311.8 521.1L314.3 520.0L316.9 518.9L319.4 517.7L322.0 516.6L324.5 515.5L327.0 514.3L329.6 513.2L332.1 512.0L334.6 510.9L337.2 509.7L339.7 508.6L342.2 507.4L344.7 506.2L347.2 505.0L349.8 503.8L352.3 502.6L354.8 501.5L357.3 500.3L359.8 499.0L362.3 497.8L364.8 496.6L367.3 495.4L369.8 494.2L372.3 493.0L374.8 491.7L377.2 490.5L379.7 489.3L382.2 488.0L384.7 486.8L387.2 485.5L389.7 484.3L392.1 483.0L394.6 481.8L397.1 480.5L399.6 479.2L402.0 478.0L404.5 476.7L407.0 475.4L409.4 474.1L411.9 472.8L414.3 471.5L416.8 470.2L419.3 468.9L421.7 467.6L424.2 466.3L426.6 465.0L429.1 463.7L431.5 462.4L433.9 461.1L436.4 459.7L438.8 458.4L441.3 457.1L443.7 455.7L446.1 454.4L448.6 453.1L451.0 451.7L453.4 450.4L455.8 449.0L458.3 447.6L460.7 446.3L463.1 444.9L465.5 443.5L467.9 442.2L470.3 440.8L472.8 439.4L475.2 438.0L477.6 436.6L480.0 435.2L482.4 433.8L484.8 432.4L487.2 431.0L489.6 429.6L492.0 428.2L494.4 426.8L496.7 425.4L499.1 424.0L501.5 422.5L503.9 421.1L506.3 419.7L508.7 418.2L511.0 416.8L513.4 415.4L515.8 413.9L518.2 412.5L520.5 411.0L522.9 409.5L525.3 408.1L527.6 406.6L530.0 405.1L532.4 403.7L534.7 402.2L537.1 400.7L539.4 399.2L541.8 397.8L544.1 396.3L546.5 394.8L548.8 393.3L551.2 391.8L553.5 390.3L555.8 388.8L558.2 387.3L560.5 385.7L562.8 384.2L565.2 382.7L567.5 381.2L569.8 379.7L572.1 378.1L574.5 376.6L576.8 375.1L579.1 373.5L581.4 372.0L583.7 370.4L586.0 368.9L588.3 367.3L590.7 365.8L593.0 364.2L595.3 362.6L597.6 361.1L599.9 359.5L602.2 357.9L604.4 356.3L606.7 354.8L609.0 353.2L611.3 351.6L613.6 350.0L615.9 348.4L618.2 346.8L620.4 345.2L622.7 343.6L625.0 342.0L627.3 340.4L629.5 338.8L631.8 337.2L634.1 335.6L636.3 333.9L638.6 332.3L640.9 330.7L643.1 329.0L645.4 327.4L647.6 325.8L649.9 324.1L652.1 322.5L654.4 320.8L656.6 319.2L658.8 317.5L661.1 315.9L663.3 314.2L665.6 312.6L667.8 310.9L670.0 309.2L672.3 307.6L674.5 305.9L676.7 304.2L678.9 302.5L681.1 300.8L683.4 299.1L685.6 297.5L687.8 295.8L690.0 294.1L692.2 292.4L694.4 290.7L696.6 289.0L698.8 287.3L701.0 285.5L703.2 283.8L705.4 282.1L707.6 280.4L709.8 278.7L712.0 276.9L714.2 275.2L716.4 273.5L718.5 271.8L720.7 270.0L722.9 268.3L725.1 266.5L727.2 264.8L729.4 263.0L731.6 261.3L733.8 259.5L735.9 257.8L738.1 256.0L740.2 254.3L742.4 252.5L744.6 250.7L746.7 248.9L748.9 247.2L751.0 245.4L753.2 243.6L755.3 241.8L757.4 240.0L759.6 238.3L761.7 236.5L763.8 234.7L766.0 232.9L768.1 231.1L770.2 229.3L772.4 227.5L774.5 225.7L776.6 223.9L778.7 222.0L780.8 220.2L783.0 218.4L785.1 216.6L787.2 214.8L789.3 212.9L791.4 211.1L793.5 209.3L795.6 207.5L797.7 205.6L799.8 203.8L801.9 201.9L804.0 200.1L806.1 198.2L808.1 196.4L810.2 194.5L812.3 192.7L814.4 190.8L816.5 189.0L818.5 187.1L820.6 185.2L822.7 183.4L824.8 181.5L826.8 179.6L828.9 177.8L830.9 175.9L833.0 174.0L835.1 172.1L837.1 170.2L839.2 168.4L841.2 166.5L843.3 164.6L845.3 162.7L847.4 160.8L849.4 158.9L851.4 157.0L853.5 155.1L855.5 153.2L857.5 151.3L859.6 149.3L861.6 147.4L863.6 145.5L865.6 143.6L867.6 141.7L869.7 139.8L871.7 137.8L873.7 135.9L875.7 134.0L877.7 132.0L879.7 130.1L881.7 128.2L883.7 126.2L885.7 124.3L887.7 122.3L889.7 120.4L891.7 118.4L893.7 116.5L895.7 114.5L897.6 112.6L899.6 110.6L901.6 108.7L903.6 106.7L905.6 104.7L907.5 102.8L909.5 100.8L911.5 98.8L913.4 96.9L915.4 94.9L917.3 92.9L919.3 90.9L921.3 88.9L923.2 87.0L925.2 85.0L927.1 83.0L929.0 81.0L931.0 79.0L932.9 77.0L934.9 75.0L936.8 73.0L938.7 71.0L940.7 69.0L942.6 67.0L944.5 65.0L946.4 63.0L948.4 61.0L950.3 58.9L952.2 56.9L954.1 54.9L956.0 52.9L957.9 50.9L959.8 48.8L961.7 46.8L963.6 44.8L965.5 42.8L967.4 40.7L969.3 38.7L971.2 36.7L973.1 34.6L975.0 32.6L976.9 30.5L978.7 28.5L980.6 26.4L982.5 24.4L984.4 22.4L986.2 20.3L988.1 18.2L990.0 16.2L991.8 14.1L993.7 12.1L995.6 10.0"/>
</g>
<g stroke="#3c3c3c" stroke-width="2.2" fill="none"><path d="M100.2 10.05H996.5"/><path d="M109.5 647.4H996.5"/></g>
<g stroke="#151515" stroke-width="1.9" fill="none">
<path d="M110.4 10.05V647.4"/><path d="M995.6 10.05V657.2"/>
<path d="M100.2 647.4H110.4"/>
<path d="M100.2 519.9H110.4"/>
<path d="M287.4 647.4V657.2"/>
<path d="M100.2 392.5H110.4"/>
<path d="M464.5 647.4V657.2"/>
<path d="M100.2 265.0H110.4"/>
<path d="M641.5 647.4V657.2"/>
<path d="M100.2 137.5H110.4"/>
<path d="M818.6 647.4V657.2"/>
</g>
<text class="tk" x="88.8" y="656.5" text-anchor="end">0.0</text>
<text class="tk" x="110.4" y="691.5" text-anchor="middle">0.0</text>
<text class="tk" x="88.8" y="529.0" text-anchor="end">0.2</text>
<text class="tk" x="287.4" y="691.5" text-anchor="middle">0.2</text>
<text class="tk" x="88.8" y="401.6" text-anchor="end">0.4</text>
<text class="tk" x="464.5" y="691.5" text-anchor="middle">0.4</text>
<text class="tk" x="88.8" y="274.1" text-anchor="end">0.6</text>
<text class="tk" x="641.5" y="691.5" text-anchor="middle">0.6</text>
<text class="tk" x="88.8" y="146.6" text-anchor="end">0.8</text>
<text class="tk" x="818.6" y="691.5" text-anchor="middle">0.8</text>
<text class="tk" x="88.8" y="19.1" text-anchor="end">1.0</text>
<text class="tk" x="995.6" y="691.5" text-anchor="middle">1.0</text>
<text class="ax" x="553" y="742.5" text-anchor="middle"><tspan font-style="italic">t</tspan>/<tspan font-style="italic">t</tspan><tspan font-size="20" dy="8.5">f</tspan></text>
<text class="ax" transform="translate(23.1 329) rotate(-90)" text-anchor="middle" style="font-size:28px;letter-spacing:1px;stroke-width:0.15px">ε/ε<tspan font-size="20" dy="8.5">f</tspan></text>
<text class="lg" x="205.7" y="52.5">2.25Cr-1Mo Steel (300MPa/510 °C)</text>
<g fill="#bcbcbc" stroke="#111" stroke-width="1.7"><circle cx="164.0" cy="43.2" r="7.4"/></g>
<text class="lg" x="205.7" y="84.3">Copper (34MPa/372 °C)</text>
<g fill="#808080" stroke="#111" stroke-width="1.7"><path d="M164.0 66.5L171.1 79.7H156.9Z"/></g>
<text class="lg" x="205.7" y="116.1">0.5Cr-0.5Mo-0.25V Steel (275MPa/500 °C)</text>
<g fill="#bcbcbc" stroke="#111" stroke-width="1.7"><path d="M164.0 115.9L171.1 102.7H156.9Z"/></g>
<text class="lg" x="205.7" y="147.9">IN100 (350MPa/700 °C)</text>
<g fill="#808080" stroke="#111" stroke-width="1.7"><path d="M164.0 130.5L172.7 139.2L164.0 147.9L155.3 139.2Z"/></g>
<text class="lg" x="205.7" y="179.7">Nimonic105 (230MPa/825 °C)</text>
<g fill="#bcbcbc" stroke="#111" stroke-width="1.7"><rect x="157.5" y="164.7" width="13.0" height="13.0"/></g>
<text class="lg" x="205.7" y="211.5">Ti-6246 (550MPa/500 °C)</text>
<g fill="none" stroke="#111" stroke-width="1.5"><path d="M157.3 196.5L170.7 209.9M157.3 209.9L170.7 196.5"/></g>
<text class="lg" x="205.7" y="243.3">Waspaloy (700MPa/600 °C)</text>
<g fill="#000" stroke="#111" stroke-width="0.5"><path d="M164.0 227.4L166.1 233.0L172.0 233.2L167.3 236.9L168.9 242.6L164.0 239.3L159.1 242.6L160.7 236.9L156.0 233.2L161.9 233.0Z"/></g>
<text class="lg" x="205.7" y="275.1">Equation (1) fit</text>
<path d="M136 266.5H193" stroke="#111" stroke-width="1.7"/>
</svg></body></html>
